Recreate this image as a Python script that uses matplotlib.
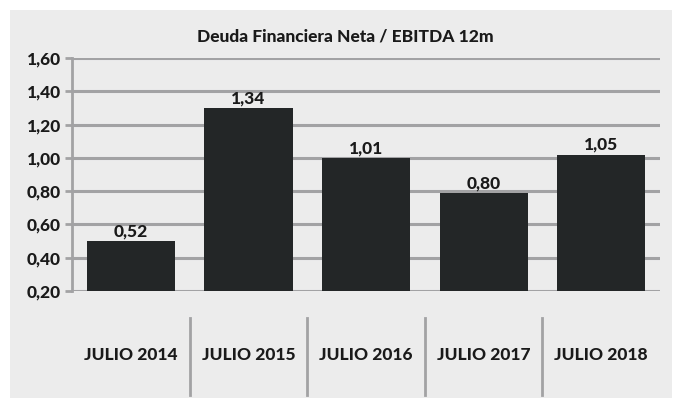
import matplotlib

matplotlib.use("Agg")
import matplotlib.pyplot as plt  # noqa: E402
from matplotlib.patches import Rectangle  # noqa: E402

categories = ["JULIO 2014", "JULIO 2015", "JULIO 2016", "JULIO 2017", "JULIO 2018"]
bar_heights = [0.50, 1.30, 1.00, 0.79, 1.02]
value_labels = ["0,52", "1,34", "1,01", "0,80", "1,05"]
y_ticks = [0.20, 0.40, 0.60, 0.80, 1.00, 1.20, 1.40, 1.60]
y_tick_labels = ["0,20", "0,40", "0,60", "0,80", "1,00", "1,20", "1,40", "1,60"]
title = "Deuda Financiera Neta / EBITDA 12m"

plt.rcParams["font.family"] = ["Lato", "DejaVu Sans"]

bg = "#ececec"
bar_color = "#232627"
line_color = "#a2a2a4"
text_color = "#1a1a1a"
fs = 12.5
fw = "black"

fig = plt.figure(figsize=(6.82, 4.05), dpi=100)
fig.patches.append(
    Rectangle((10 / 682, 7 / 405), 662 / 682, 388 / 405, transform=fig.transFigure,
              facecolor=bg, edgecolor="none", zorder=-10)
)

ax = fig.add_axes([72 / 682, 114 / 405, 588 / 682, 233 / 405])
ax.patch.set_alpha(0)

x = list(range(len(categories)))
ax.bar(x, [h - 0.2 for h in bar_heights], bottom=0.2, width=0.75, color=bar_color, zorder=3)
for xi, h, lab in zip(x, bar_heights, value_labels):
    ax.text(xi, h + 0.01, lab, ha="center", va="bottom", fontsize=fs,
            fontweight=fw, color=text_color, zorder=4)

ax.set_xlim(-0.5, len(categories) - 0.5)
ax.set_ylim(0.2, 1.6)
ax.set_yticks(y_ticks)
ax.set_yticklabels(y_tick_labels, fontsize=fs, fontweight=fw, color=text_color)
ax.set_xticks([])
ax.tick_params(axis="y", length=5, width=2, color=line_color, pad=3)
ax.grid(axis="y", color=line_color, linewidth=2.2, zorder=1)
ax.set_axisbelow(True)
for side in ("top", "right", "bottom"):
    ax.spines[side].set_visible(False)
ax.spines["left"].set_color(line_color)
ax.spines["left"].set_linewidth(2)

# category labels and separators below the plot
trans = ax.get_xaxis_transform()
for xi, cat in zip(x, categories):
    ax.text(xi, -0.275, cat, transform=trans, ha="center", va="center",
            fontsize=fs, fontweight=fw, color=text_color, clip_on=False)
for xi in x[:-1]:
    ax.plot([xi + 0.5, xi + 0.5], [-0.116, -0.446], transform=trans,
            color=line_color, linewidth=2, clip_on=False)

fig.text(345 / 682, 1 - 36 / 405, title, ha="center", va="center",
         fontsize=fs, fontweight=fw, color=text_color)

fig.savefig("out.png", dpi=100, facecolor="white")
